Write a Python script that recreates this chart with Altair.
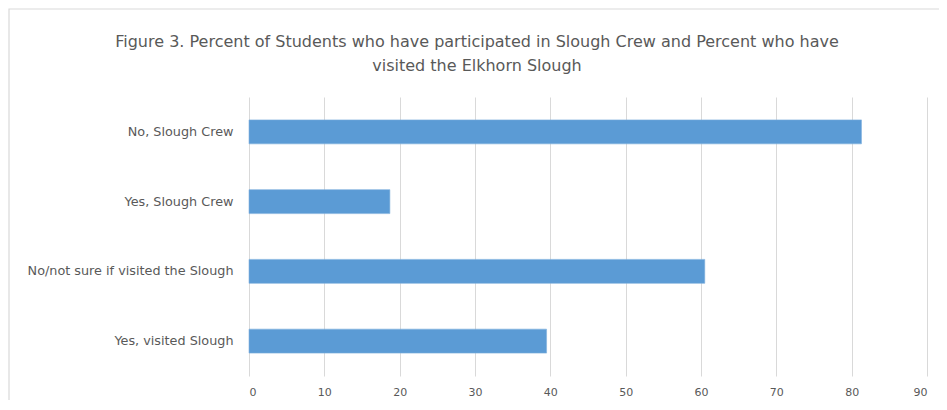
import altair as alt
import pandas as pd

categories = ["No, Slough Crew", "Yes, Slough Crew", "No/not sure if visited the Slough", "Yes, visited Slough"]
values = [81.3, 18.7, 60.5, 39.5]
x_ticks = [0, 10, 20, 30, 40, 50, 60, 70, 80, 90]
title_lines = ["Figure 3. Percent of Students who have participated in Slough Crew and Percent who have",
               "visited the Elkhorn Slough"]

df = pd.DataFrame({"category": categories, "value": values})

W, H = 678, 279
FONT = "DejaVu Sans"
TXT = "#595959"

bars = alt.Chart(df).mark_bar(color="#5B9BD5", stroke="#7FB0DE", strokeWidth=0.6).encode(
    x=alt.X("value:Q",
            scale=alt.Scale(domain=[0, 90], nice=False),
            axis=alt.Axis(values=x_ticks, title=None, domain=False, ticks=False,
                          labelPadding=10, labelFontSize=11, labelColor=TXT, labelFont=FONT,
                          grid=True, gridColor="#d9d9d9", gridWidth=1)),
    y=alt.Y("category:N", sort=categories,
            scale=alt.Scale(paddingInner=0.656, paddingOuter=0.328),
            axis=alt.Axis(title=None, domain=False, ticks=False, labelPadding=16, labelLimit=400,
                          labelFontSize=12.8, labelColor=TXT, labelFont=FONT)),
)

frame = alt.Chart(pd.DataFrame({"a": [0]})).mark_rect(
    fill=None, stroke="#d9d9d9", strokeWidth=1.2, clip=False
).encode(
    x=alt.value(-240), x2=alt.value(W + 200),
    y=alt.value(-88), y2=alt.value(H + 200),
)

title1 = alt.Chart(pd.DataFrame({"t": [title_lines[0]]})).mark_text(
    font=FONT, fontSize=16, color=TXT, align="center", baseline="middle"
).encode(text="t:N", x=alt.value(W / 2 - 111), y=alt.value(-55))

title2 = alt.Chart(pd.DataFrame({"t": [title_lines[1]]})).mark_text(
    font=FONT, fontSize=16, color=TXT, align="center", baseline="middle"
).encode(text="t:N", x=alt.value(W / 2 - 111), y=alt.value(-31))

chart = alt.layer(frame, bars, title1, title2).properties(
    width=W, height=H,
    autosize=alt.AutoSizeParams(type="none"),
    padding={"left": 241, "top": 89, "right": 12, "bottom": 24},
).configure_view(stroke=None)

chart.save("out.html", embed_options={"renderer": "svg", "actions": False})
